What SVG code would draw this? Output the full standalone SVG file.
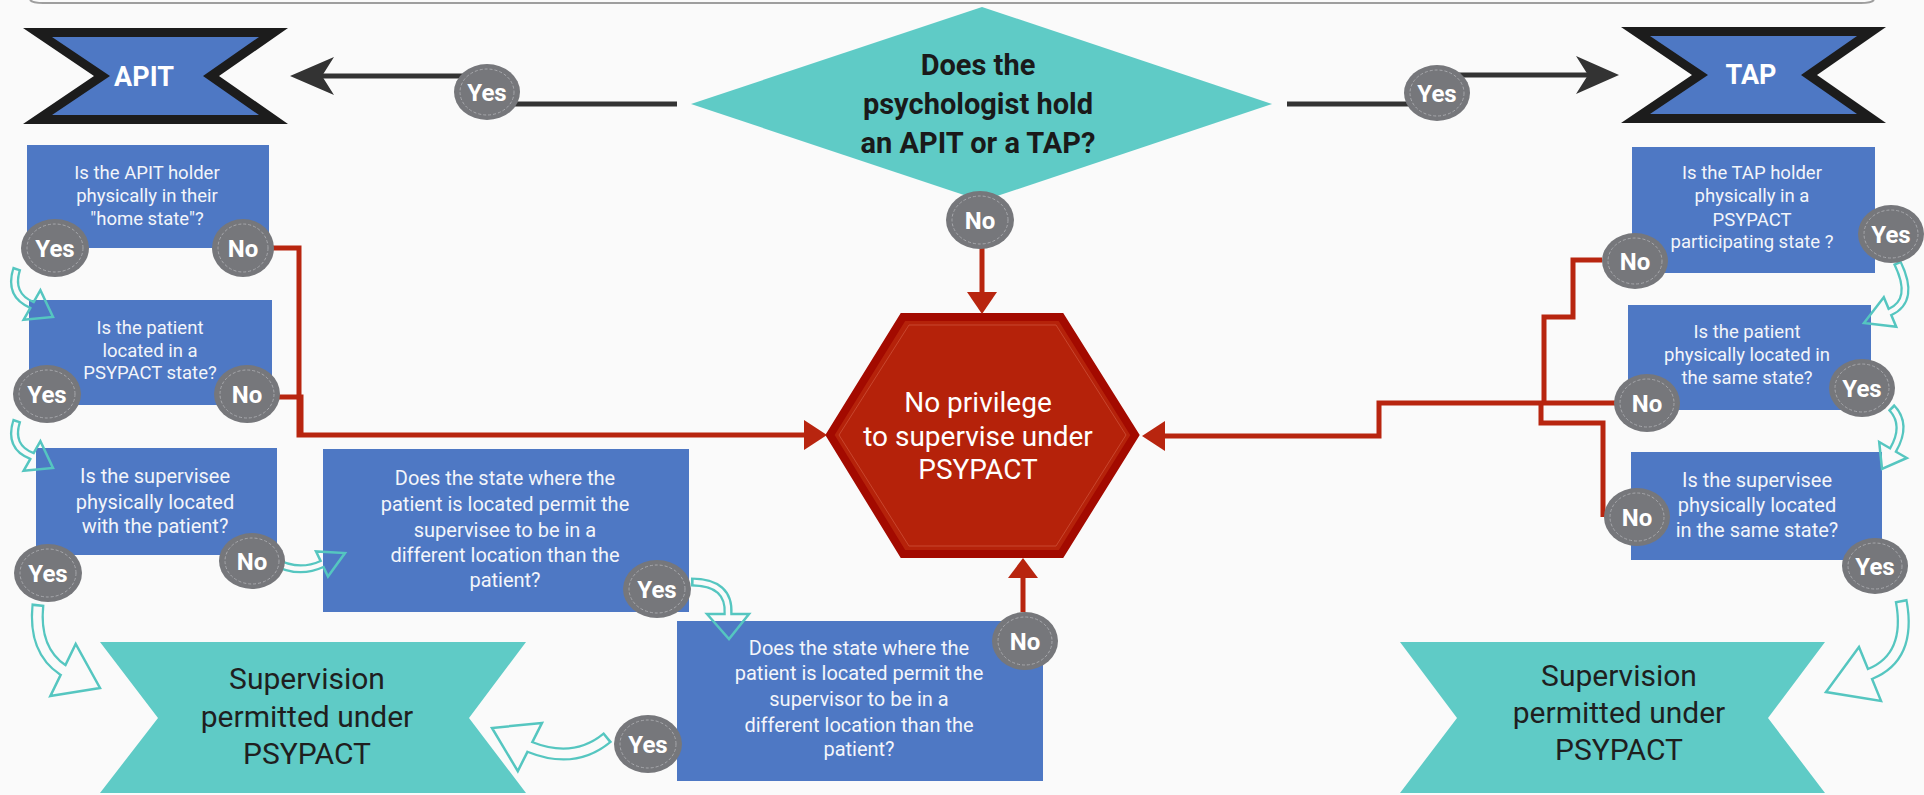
<svg xmlns="http://www.w3.org/2000/svg" width="1924" height="795" viewBox="0 0 1924 795">
<defs>
<style>
.bg{fill:#FAFAFA}
.box{fill:#4E78C4}
.bt{font-family:Roboto,"Liberation Sans",sans-serif;fill:#F3F5FA;text-anchor:middle}
.s18{font-size:18.5px}
.s20{font-size:20px}
.ban-out{fill:#1C1C1C}
.ban-in{fill:#4E78C4}
.bant{font-family:Roboto,"Liberation Sans",sans-serif;font-weight:700;font-size:27px;fill:#FFFFFF;text-anchor:middle}
.teal{fill:#5FCBC6}
.dt{font-family:Roboto,"Liberation Sans",sans-serif;font-weight:700;font-size:29px;fill:#1A1A1A;text-anchor:middle}
.st{font-family:Roboto,"Liberation Sans",sans-serif;font-size:30px;fill:#1F1F1F;text-anchor:middle}
.hex{fill:#B5220A;stroke:#A30A00;stroke-width:8;stroke-linejoin:miter}
.hexin{fill:none;stroke:#C8462E;stroke-width:1}
.ht{font-family:Roboto,"Liberation Sans",sans-serif;font-size:28px;fill:#FFFFFF;text-anchor:middle}
.dark{fill:none;stroke:#333333;stroke-width:5}
.darkh{fill:#333333}
.red{fill:none;stroke:#B8250F;stroke-width:5}
.redh{fill:#B8250F}
.ta{fill:none;stroke:#55C6C0;stroke-linejoin:miter}
.ta-s{stroke-width:9}
.ta-b{stroke-width:13}
.th{fill:none;stroke:#55C6C0;stroke-width:2.5;stroke-linejoin:miter}
.mk{fill:none;stroke:#000;stroke-dasharray:0 2.5 3000 0}
.mk-s{stroke-width:4.5}
.mk-b{stroke-width:8.5}
.badge ellipse{fill:#76777B}
.badge .dash{fill:none;stroke:#A6A7AB;stroke-width:1;stroke-dasharray:3 2}
.badge text{font-family:Roboto,"Liberation Sans",sans-serif;font-weight:700;font-size:24px;fill:#FFFFFF;text-anchor:middle}
</style>
<mask id="hollow" maskUnits="userSpaceOnUse" x="0" y="0" width="1924" height="795">
<rect width="1924" height="795" fill="#fff"/>
<path class="mk mk-s" d="M17,268 Q8,295 32,305 l3,1.7"/>
<path class="mk mk-s" d="M17,420 Q8,447 32,456 l3,1.7"/>
<path class="mk mk-s" d="M273,561 Q298,575 322,564 l2.7,-1.3"/>
<path class="mk mk-s" d="M691,582 Q730,582 728,614 l0,3"/>
<path class="mk mk-b" d="M608,737 Q575,765 530,747 l-2.7,-1.3"/>
<path class="mk mk-b" d="M38,604 Q33,650 63,670 l2.7,1.3"/>
<path class="mk mk-s" d="M1897,262 Q1916,300 1890,312 l-2.8,1.2"/>
<path class="mk mk-s" d="M1891,407 Q1908,424 1893,450 l-1.5,2.6"/>
<path class="mk mk-b" d="M1901,600 Q1912,657 1870,674 l-2.8,1.1"/>
</mask>
</defs>

<rect class="bg" x="0" y="0" width="1924" height="795"/>
<path d="M30,0 Q33,3 43,3 L1861,3 Q1871,3 1874,0" fill="none" stroke="#9E9E9E" stroke-width="2"/>

<g id="node-apit">
<polygon class="ban-out" points="23,28 288,28 219,76 288,124 23,124 94,76"/>
<polygon class="ban-in" points="52,37 259,37 203,76 259,115 52,115 110,76"/>
<text class="bant" x="144" y="86">APIT</text>
</g>
<g id="node-tap" transform="translate(1598,-1)">
<polygon class="ban-out" points="23,28 288,28 219,76 288,124 23,124 94,76"/>
<polygon class="ban-in" points="52,37 259,37 203,76 259,115 52,115 110,76"/>
<text class="bant" x="153" y="85">TAP</text>
</g>

<g id="node-question">
<polygon class="teal" points="982,7 1272,104 982,201 691,104"/>
<text class="dt" x="978" y="75">Does the</text>
<text class="dt" x="978" y="114">psychologist hold</text>
<text class="dt" x="978" y="153">an APIT or a TAP?</text>
</g>

<g id="node-noprivilege">
<polygon class="hex" points="903,317 1061,317 1135,435 1061,554 903,554 830,435"/>
<polygon class="hexin" points="909,325 1056,325 1126,435 1056,546 909,546 839,435"/>
<text class="ht" x="978" y="412">No privilege</text>
<text class="ht" x="978" y="446">to supervise under</text>
<text class="ht" x="978" y="479">PSYPACT</text>
</g>

<g id="node-apit-q1">
<rect class="box" x="27" y="145" width="242" height="103"/>
<text class="bt s18" x="147" y="179">Is the APIT holder</text>
<text class="bt s18" x="147" y="202">physically in their</text>
<text class="bt s18" x="147" y="225">"home state"?</text>
</g>
<g id="node-apit-q2">
<rect class="box" x="29" y="300" width="243" height="105"/>
<text class="bt s18" x="150" y="334">Is the patient</text>
<text class="bt s18" x="150" y="357">located in a</text>
<text class="bt s18" x="150" y="379">PSYPACT state?</text>
</g>
<g id="node-apit-q3">
<rect class="box" x="36" y="448" width="241" height="107"/>
<text class="bt s20" x="155" y="483">Is the supervisee</text>
<text class="bt s20" x="155" y="509">physically located</text>
<text class="bt s20" x="155" y="533">with the patient?</text>
</g>
<g id="node-apit-q4">
<rect class="box" x="323" y="449" width="366" height="163"/>
<text class="bt s20" x="505" y="485">Does the state where the</text>
<text class="bt s20" x="505" y="511">patient is located permit the</text>
<text class="bt s20" x="505" y="537">supervisee to be in a</text>
<text class="bt s20" x="505" y="562">different location than the</text>
<text class="bt s20" x="505" y="587">patient?</text>
</g>
<g id="node-apit-q5">
<rect class="box" x="677" y="621" width="366" height="160"/>
<text class="bt s20" x="859" y="655">Does the state where the</text>
<text class="bt s20" x="859" y="680">patient is located permit the</text>
<text class="bt s20" x="859" y="706">supervisor to be in a</text>
<text class="bt s20" x="859" y="732">different location than the</text>
<text class="bt s20" x="859" y="756">patient?</text>
</g>

<g id="node-tap-q1">
<rect class="box" x="1632" y="147" width="243" height="126"/>
<text class="bt s18" x="1752" y="179">Is the TAP holder</text>
<text class="bt s18" x="1752" y="202">physically in a</text>
<text class="bt s18" x="1752" y="226">PSYPACT</text>
<text class="bt s18" x="1752" y="248">participating state ?</text>
</g>
<g id="node-tap-q2">
<rect class="box" x="1628" y="305" width="243" height="105"/>
<text class="bt s18" x="1747" y="338">Is the patient</text>
<text class="bt s18" x="1747" y="361">physically located in</text>
<text class="bt s18" x="1747" y="384">the same state?</text>
</g>
<g id="node-tap-q3">
<rect class="box" x="1631" y="452" width="251" height="108"/>
<text class="bt s20" x="1757" y="487">Is the supervisee</text>
<text class="bt s20" x="1757" y="512">physically located</text>
<text class="bt s20" x="1757" y="537">in the same state?</text>
</g>

<g id="node-permitted-left">
<polygon class="teal" points="100,642 526,642 469,718 526,793 100,793 158,718"/>
<text class="st" x="307" y="689">Supervision</text>
<text class="st" x="307" y="727">permitted under</text>
<text class="st" x="307" y="764">PSYPACT</text>
</g>
<g id="node-permitted-right">
<polygon class="teal" points="1400,642 1825,642 1768,718 1825,793 1400,793 1457,718"/>
<text class="st" x="1619" y="686">Supervision</text>
<text class="st" x="1619" y="723">permitted under</text>
<text class="st" x="1619" y="760">PSYPACT</text>
</g>

<g id="connectors">
<path class="dark" d="M677,104 H487 V76 H322"/>
<polygon class="darkh" points="290,76 334,57 322,76 334,95"/>
<path class="dark" d="M1287,104 H1437 V75 H1588"/>
<polygon class="darkh" points="1619,75 1576,56 1588,75 1576,94"/>

<path class="red" d="M982,248 V294"/>
<polygon class="redh" points="982,314 967,292 997,292"/>
<path class="red" d="M270,248 H299 V435 H808"/>
<path class="red" d="M275,397 H301 V435"/>
<polygon class="redh" points="827,435 804,420 804,450"/>
<path class="red" d="M1023,612 V577"/>
<polygon class="redh" points="1023,558 1008,578 1038,578"/>
<path class="red" d="M1602,260 H1573 V317 H1544 V405"/>
<path class="red" d="M1615,403 H1379 V436 H1162"/>
<polygon class="redh" points="1142,436 1165,421 1165,451"/>
<path class="red" d="M1603,517 V423 H1541 V403"/>

<g mask="url(#hollow)">
<path class="ta ta-s" d="M17,268 Q8,295 32,305"/>
<polygon class="th" points="23.6,319.8 53,317 40.4,290.2"/>
<path class="ta ta-s" d="M17,420 Q8,447 32,456"/>
<polygon class="th" points="23.6,470.8 53,468 40.4,441.2"/>
<path class="ta ta-s" d="M273,561 Q298,575 322,564"/>
<polygon class="th" points="328,576.6 345,553 316,551.4"/>
<path class="ta ta-s" d="M691,582 Q730,582 728,614"/>
<polygon class="th" points="707,614 729,639 749,614"/>
<path class="ta ta-b" d="M608,737 Q575,765 530,747"/>
<polygon class="th" points="542,722.9 492,728 517.8,771.1"/>
<path class="ta ta-b" d="M38,604 Q33,650 63,670"/>
<polygon class="th" points="50.3,696.1 100,688 75.7,643.9"/>
<path class="ta ta-s" d="M1897,262 Q1916,300 1890,312"/>
<polygon class="th" points="1883.8,297.3 1864,323 1896.2,326.7"/>
<path class="ta ta-s" d="M1891,407 Q1908,424 1893,450"/>
<polygon class="th" points="1879.2,442 1882,469 1906.8,458"/>
<path class="ta ta-b" d="M1901,600 Q1912,657 1870,674"/>
<polygon class="th" points="1859,647 1826,692 1881,700.9"/>
</g>
</g>

<g id="label-yes-apit" class="badge" transform="translate(487,92)"><ellipse rx="33" ry="28"/><ellipse class="dash" rx="27" ry="23"/><text y="8.5">Yes</text></g>
<g id="label-yes-tap" class="badge" transform="translate(1437,93)"><ellipse rx="33" ry="28"/><ellipse class="dash" rx="27" ry="23"/><text y="8.5">Yes</text></g>
<g id="label-no-question" class="badge" transform="translate(980,220)"><ellipse rx="34" ry="29"/><ellipse class="dash" rx="28" ry="24"/><text y="8.5">No</text></g>
<g id="label-yes-a1" class="badge" transform="translate(55,248)"><ellipse rx="34" ry="29"/><ellipse class="dash" rx="28" ry="24"/><text y="8.5">Yes</text></g>
<g id="label-no-a1" class="badge" transform="translate(243,248)"><ellipse rx="31" ry="29"/><ellipse class="dash" rx="25" ry="24"/><text y="8.5">No</text></g>
<g id="label-yes-a2" class="badge" transform="translate(47,394)"><ellipse rx="34" ry="29"/><ellipse class="dash" rx="28" ry="24"/><text y="8.5">Yes</text></g>
<g id="label-no-a2" class="badge" transform="translate(247,394)"><ellipse rx="33" ry="29"/><ellipse class="dash" rx="27" ry="24"/><text y="8.5">No</text></g>
<g id="label-yes-a3" class="badge" transform="translate(48,573)"><ellipse rx="34" ry="29"/><ellipse class="dash" rx="28" ry="24"/><text y="8.5">Yes</text></g>
<g id="label-no-a3" class="badge" transform="translate(252,561)"><ellipse rx="33" ry="28"/><ellipse class="dash" rx="27" ry="23"/><text y="8.5">No</text></g>
<g id="label-yes-a4" class="badge" transform="translate(657,589)"><ellipse rx="34" ry="29"/><ellipse class="dash" rx="28" ry="24"/><text y="8.5">Yes</text></g>
<g id="label-no-a5" class="badge" transform="translate(1025,641)"><ellipse rx="33" ry="29"/><ellipse class="dash" rx="27" ry="24"/><text y="8.5">No</text></g>
<g id="label-yes-a5" class="badge" transform="translate(648,744)"><ellipse rx="34" ry="29"/><ellipse class="dash" rx="28" ry="24"/><text y="8.5">Yes</text></g>
<g id="label-no-t1" class="badge" transform="translate(1635,261)"><ellipse rx="33" ry="28"/><ellipse class="dash" rx="27" ry="23"/><text y="8.5">No</text></g>
<g id="label-yes-t1" class="badge" transform="translate(1891,234)"><ellipse rx="33" ry="29"/><ellipse class="dash" rx="27" ry="24"/><text y="8.5">Yes</text></g>
<g id="label-no-t2" class="badge" transform="translate(1647,403)"><ellipse rx="33" ry="29"/><ellipse class="dash" rx="27" ry="24"/><text y="8.5">No</text></g>
<g id="label-yes-t2" class="badge" transform="translate(1862,388)"><ellipse rx="33" ry="29"/><ellipse class="dash" rx="27" ry="24"/><text y="8.5">Yes</text></g>
<g id="label-no-t3" class="badge" transform="translate(1637,517)"><ellipse rx="33" ry="29"/><ellipse class="dash" rx="27" ry="24"/><text y="8.5">No</text></g>
<g id="label-yes-t3" class="badge" transform="translate(1875,566)"><ellipse rx="33" ry="28"/><ellipse class="dash" rx="27" ry="23"/><text y="8.5">Yes</text></g>
</svg>
